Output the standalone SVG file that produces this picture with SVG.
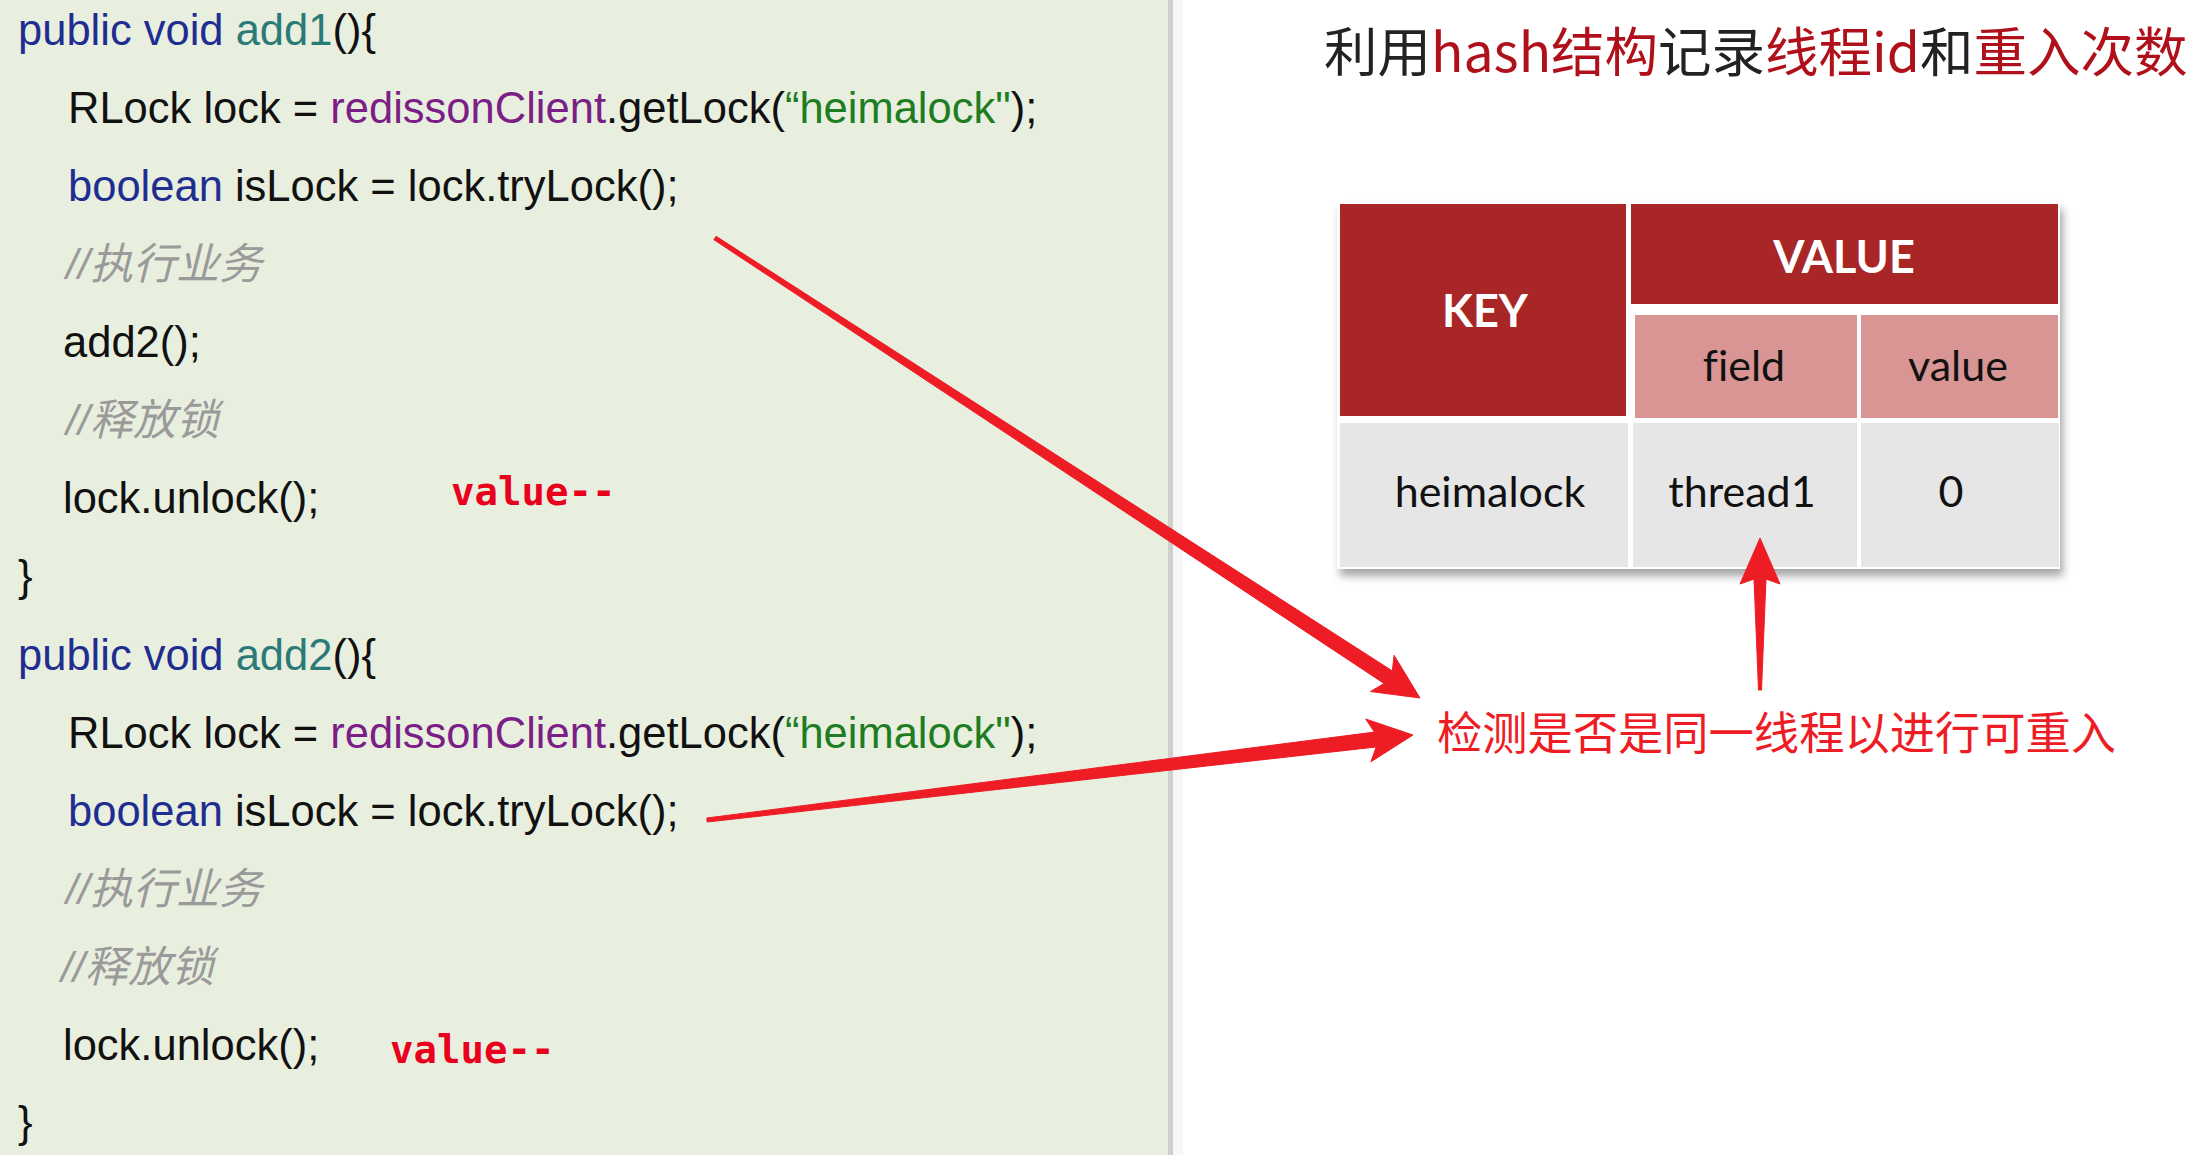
<svg xmlns="http://www.w3.org/2000/svg" width="2209" height="1155" viewBox="0 0 2209 1155">
  <defs>
    <style>
      .code { font-family: "Liberation Sans", Arial, sans-serif; font-size: 43.5px; fill: #111; }
      .kw { fill: #1f2d91; }
      .fn { fill: #2b7a78; }
      .obj { fill: #7b1f87; }
      .str { fill: #1e7d22; }
      .cmt { font-family: "Liberation Sans", "Noto Sans CJK SC", sans-serif; font-size: 43px; fill: #9a9a9a; font-style: italic; }
      .dec { font-family: "DejaVu Sans Mono", monospace; font-size: 39px; font-weight: bold; fill: #e8001c; }
      .hdr { font-family: Lato, "Open Sans", sans-serif; font-weight: bold; font-size: 45px; fill: #ffffff; text-anchor: middle; }
      .cell { font-family: Lato, "Open Sans", sans-serif; font-size: 43px; fill: #111; text-anchor: middle; font-variant-ligatures: none; }
      .dark { fill: #a82626; }
      .pink { fill: #d99594; }
      .grey { fill: #e6e6e6; }
      .title { font-family: "Noto Sans CJK SC", sans-serif; font-size: 53.5px; fill: #222; }
      .tred { fill: #b0101a; }
      .note { font-family: "Noto Sans CJK SC", sans-serif; font-size: 45px; fill: #ee1c25; }
      .arrow { fill: #ee1c25; stroke: #ee1c25; stroke-width: 1; stroke-linejoin: round; }
    </style>
    <filter id="shadow" x="-5%" y="-5%" width="110%" height="115%">
      <feDropShadow dx="3" dy="7" stdDeviation="4" flood-color="#000" flood-opacity="0.35"/>
    </filter>
  </defs>

  <rect x="0" y="0" width="2209" height="1155" fill="#ffffff"/>
  <rect x="0" y="0" width="1168" height="1155" fill="#e9efdf"/>
  <rect x="1168" y="0" width="5" height="1155" fill="#cfd0cc"/>
  <rect x="1173" y="0" width="10" height="1155" fill="#f6f6f6"/>

  <g id="code-add1">
    <text class="code" x="18" y="45"><tspan class="kw">public void </tspan><tspan class="fn">add1</tspan>(){</text>
    <text class="code" x="68" y="123">RLock lock = <tspan class="obj">redissonClient</tspan>.getLock(<tspan class="str">“heimalock"</tspan>);</text>
    <text class="code" x="68" y="201"><tspan class="kw">boolean</tspan> isLock = lock.tryLock();</text>
    <text class="cmt" x="66" y="279">//执行业务</text>
    <text class="code" x="63" y="357">add2();</text>
    <text class="cmt" x="66" y="435">//释放锁</text>
    <text class="code" x="63" y="513">lock.unlock();</text>
    <text class="dec" x="451" y="505">value--</text>
    <text class="code" x="18" y="591">}</text>
  </g>

  <g id="code-add2">
    <text class="code" x="18" y="670"><tspan class="kw">public void </tspan><tspan class="fn">add2</tspan>(){</text>
    <text class="code" x="68" y="748">RLock lock = <tspan class="obj">redissonClient</tspan>.getLock(<tspan class="str">“heimalock"</tspan>);</text>
    <text class="code" x="68" y="826"><tspan class="kw">boolean</tspan> isLock = lock.tryLock();</text>
    <text class="cmt" x="66" y="904">//执行业务</text>
    <text class="cmt" x="61" y="982">//释放锁</text>
    <text class="code" x="63" y="1060">lock.unlock();</text>
    <text class="dec" x="390" y="1063">value--</text>
    <text class="code" x="18" y="1137">}</text>
  </g>

  <g id="title">
    <text class="title" x="1324" y="72">利用<tspan class="tred">hash结构</tspan>记录<tspan class="tred">线程id</tspan>和<tspan class="tred">重入次数</tspan></text>
  </g>

  <g id="hash-table">
    <rect x="1337" y="202" width="723" height="367" fill="#ffffff" filter="url(#shadow)"/>
    <g id="cell-key">
      <rect class="dark" x="1340" y="204" width="286" height="212"/>
      <text class="hdr" x="1485" y="327">KEY</text>
    </g>
    <g id="cell-value-header">
      <rect class="dark" x="1631" y="204" width="427" height="100"/>
      <text class="hdr" x="1844" y="273">VALUE</text>
    </g>
    <g id="cell-field">
      <rect class="pink" x="1635" y="315" width="222" height="103"/>
      <text class="cell" x="1744" y="381">field</text>
    </g>
    <g id="cell-value">
      <rect class="pink" x="1861" y="315" width="197" height="103"/>
      <text class="cell" x="1958" y="381">value</text>
    </g>
    <g id="cell-heimalock">
      <rect class="grey" x="1340" y="423" width="288" height="144"/>
      <text class="cell" x="1490" y="507">heimalock</text>
    </g>
    <g id="cell-thread1">
      <rect class="grey" x="1633" y="423" width="224" height="144"/>
      <text class="cell" x="1742" y="507">thread1</text>
    </g>
    <g id="cell-zero">
      <rect class="grey" x="1861" y="423" width="198" height="144"/>
      <text class="cell" x="1951" y="507">0</text>
    </g>
  </g>

  <g id="note">
    <text class="note" x="1437" y="750" textLength="679" lengthAdjust="spacingAndGlyphs">检测是否是同一线程以进行可重入</text>
  </g>

  <g id="connectors">
    <polygon class="arrow" points="716.1,236.3 1392.3,670.9 1394.1,655.3 1420,698 1370.5,691.5 1384.1,683.5 713.9,239.7"/>
    <polygon class="arrow" points="706.8,818 1374.4,732.1 1365.7,719 1413,735 1370.9,761.8 1376.2,747 707.2,822"/>
    <polygon class="arrow" points="1758.5,690 1754,579 1740,584 1760,538 1780,584 1766,579 1761.5,690"/>
  </g>
</svg>
